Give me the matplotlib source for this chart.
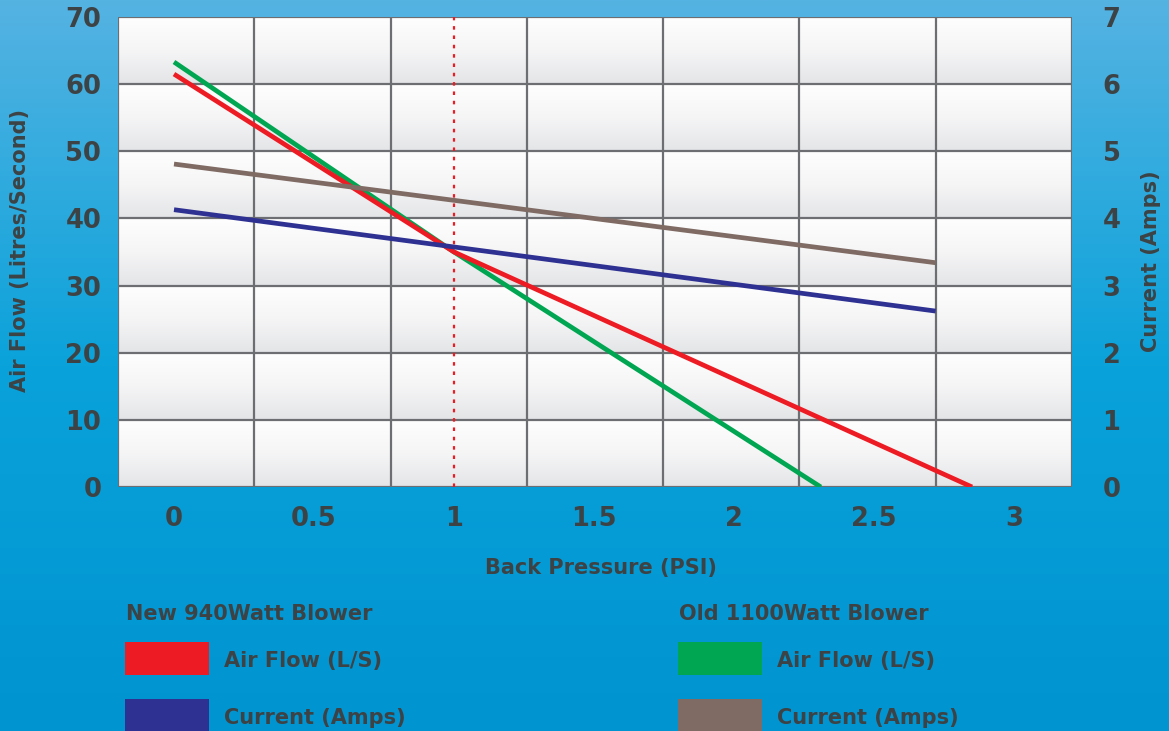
import numpy as np
import matplotlib
matplotlib.use("Agg")
import matplotlib.pyplot as plt
from matplotlib.colors import LinearSegmentedColormap
from matplotlib.patches import Rectangle

# data
new_flow_psi = [0.0, 1.0, 2.85]
new_flow = [61.5, 35.0, 0.0]
old_flow_psi = [0.0, 1.0, 2.31]
old_flow = [63.3, 35.0, 0.0]
current_psi = [0.0, 2.72]
new_current = [4.13, 2.62]
old_current = [4.81, 3.34]

x_ticks = [0, 0.5, 1, 1.5, 2, 2.5, 3]
x_tick_labels = ["0", "0.5", "1", "1.5", "2", "2.5", "3"]
flow_ticks = [0, 10, 20, 30, 40, 50, 60, 70]
amp_ticks = [0, 1, 2, 3, 4, 5, 6, 7]
marker_psi = 1.0

groups = ["New 940Watt Blower", "Old 1100Watt Blower"]
series_names = ["Air Flow (L/S)", "Current (Amps)"]

RED = "#ed1c24"
BLUE = "#2e3192"
GREEN = "#00a651"
BROWN = "#7f6b63"
TEXT = "#3d4345"
GRID = "#6d6e71"

W, H = 1169, 731
fig = plt.figure(figsize=(W / 100, H / 100), dpi=100)

# blue gradient background
bg = fig.add_axes([0, 0, 1, 1], zorder=-10)
bg_cmap = LinearSegmentedColormap.from_list("bg", ["#55b3e2", "#0aa2da", "#0094d1"])
bg.imshow(np.linspace(0, 1, 256).reshape(-1, 1), cmap=bg_cmap, aspect="auto",
          extent=(0, 1, 0, 1))
bg.set_axis_off()

def px(x0, y0):
    return x0 / W, 1 - y0 / H

left, right, top, bottom = 118, 1072, 17, 487
ax = fig.add_axes([left / W, 1 - bottom / H, (right - left) / W, (bottom - top) / H])
xmin, xmax = -0.2, 3.207
ax.set_xlim(xmin, xmax)
ax.set_ylim(0, 70)

# cell shading: white at top of each band, light grey at the bottom
cell_cmap = LinearSegmentedColormap.from_list("cell", ["#e4e5e7", "#f5f5f6", "#fefefe"])
band = np.linspace(0, 1, 60)
shade = np.tile(band, 7).reshape(-1, 1)
ax.imshow(shade, cmap=cell_cmap, aspect="auto", origin="lower",
          extent=(xmin, xmax, 0, 70), zorder=0)

for y in flow_ticks:
    ax.axhline(y, color=GRID, lw=1.6, zorder=1)
for x in np.linspace(xmin, xmax, 8):
    ax.axvline(x, color=GRID, lw=1.6, zorder=1)
ax.axvline(marker_psi, color=RED, lw=1.6, ls=(0, (1.6, 2.6)), zorder=2)

ax.plot(old_flow_psi, old_flow, color=GREEN, lw=3.4, zorder=3, solid_capstyle="butt")
ax.plot(new_flow_psi, new_flow, color=RED, lw=3.4, zorder=4, solid_capstyle="butt")

for s in ax.spines.values():
    s.set_visible(False)

tick_font = dict(fontsize=18.5, fontweight="bold", color=TEXT)
ax.set_xticks(x_ticks)
ax.set_xticklabels(x_tick_labels, **tick_font)
ax.set_yticks(flow_ticks)
ax.set_yticklabels([str(v) for v in flow_ticks], **tick_font)
ax.tick_params(axis="x", length=0, pad=14)
ax.tick_params(axis="y", length=0, pad=12)

ax2 = ax.twinx()
ax2.set_ylim(0, 7)
ax2.plot(current_psi, old_current, color=BROWN, lw=3.4, zorder=3, solid_capstyle="butt")
ax2.plot(current_psi, new_current, color=BLUE, lw=3.4, zorder=3, solid_capstyle="butt")
ax2.set_yticks(amp_ticks)
ax2.set_yticklabels([str(v) for v in amp_ticks], **tick_font)
ax2.tick_params(axis="y", length=0, pad=22)
for s in ax2.spines.values():
    s.set_visible(False)

label_font = dict(fontsize=15, fontweight="bold", color=TEXT)
fig.text(*px(20, 251), "Air Flow (Litres/Second)", rotation=90, ha="center", va="center", **label_font)
fig.text(*px(1151, 261), "Current (Amps)", rotation=90, ha="center", va="center", **label_font)
fig.text(*px(601, 568), "Back Pressure (PSI)", ha="center", va="center", **label_font)

# legend block
colors = [[RED, BLUE], [GREEN, BROWN]]
col_x = [125, 678]
for g, name in enumerate(groups):
    x0 = col_x[g]
    fig.text(*px(x0 + 1, 614), name, ha="left", va="center", **label_font)
    for i, lab in enumerate(series_names):
        ytop = 642 + i * 57
        fig.add_artist(Rectangle(px(x0, ytop + 33), 84 / W, 33 / H,
                                 transform=fig.transFigure, color=colors[g][i], lw=0))
        fig.text(*px(x0 + 99, ytop + 19), lab, ha="left", va="center", **label_font)

fig.savefig("out.png", dpi=100)
